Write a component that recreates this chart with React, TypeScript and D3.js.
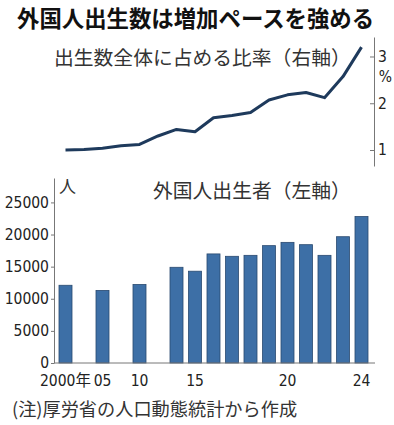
import React, { useEffect, useRef } from "react";
import * as d3 from "d3";

// slots on the x axis: "g*" slots are gaps (no bar)
const slots = ["2000", "g1", "2005", "g2", "2010", "g3", "2014", "2015", "2016", "2017", "2018", "2019", "2020", "2021", "2022", "2023", "2024"];
const barYears = ["2000", "2005", "2010", "2014", "2015", "2016", "2017", "2018", "2019", "2020", "2021", "2022", "2023", "2024"];
const births = [12100, 11300, 12230, 14900, 14290, 16980, 16610, 16760, 18270, 18780, 18420, 16760, 19660, 22800];
// share of all births (%), one value per slot
const ratio = [1.0, 1.01, 1.04, 1.09, 1.12, 1.3, 1.44, 1.39, 1.69, 1.74, 1.8, 2.07, 2.18, 2.23, 2.12, 2.57, 3.2];
const xTickYears = ["2000", "2005", "2010", "2015", "2020", "2024"];
const xTickLabels = ["2000年", "05", "10", "15", "20", "24"];
const leftTicks = [0, 5000, 10000, 15000, 20000, 25000];
const rightTicks = [1, 2, 3];

const JP = "'Noto Sans CJK JP', 'Noto Sans', sans-serif";
const NUM = "'DejaVu Sans Condensed', 'Noto Sans CJK JP', sans-serif";

const App = () => {
  const ref = useRef<SVGSVGElement>(null);

  useEffect(() => {
    const svg = d3.select(ref.current);
    svg.selectAll("*").remove();

    const x = d3.scaleBand().domain(slots).range([56.25, 370.75]).paddingInner(0.297).paddingOuter(0.1485);
    const yL = d3.scaleLinear().domain([0, 28800]).range([363, 178]);
    const yR = d3.scaleLinear().domain([0.658, 3.417]).range([166, 37]);
    const cx = (s: string) => (x(s) as number) + x.bandwidth() / 2;

    // title
    svg.append("text")
      .attr("x", 17).attr("y", 27)
      .style("font-family", JP).style("font-size", "22.4px").style("font-weight", "bold")
      .attr("fill", "#111")
      .text("外国人出生数は増加ペースを強める");

    // ----- upper line chart -----
    svg.append("text")
      .attr("x", 54).attr("y", 65)
      .style("font-family", JP).style("font-size", "19.8px")
      .attr("fill", "#333")
      .text("出生数全体に占める比率（右軸）");

    const rAxis = svg.append("g")
      .attr("transform", "translate(374,0)")
      .call(d3.axisRight(yR).tickValues(rightTicks).tickSizeInner(-4).tickSizeOuter(0).tickPadding(4).tickFormat(d3.format("d")));
    rAxis.select(".domain").attr("stroke", "#777");
    rAxis.selectAll(".tick line").attr("stroke", "#777");
    rAxis.selectAll("text")
      .style("font-family", NUM).style("font-size", "15.5px").attr("fill", "#222");
    svg.append("text")
      .attr("x", 385.5).attr("y", 82)
      .attr("text-anchor", "middle")
      .style("font-family", NUM).style("font-size", "15.5px").attr("fill", "#222")
      .text("%");

    const line = d3.line<number>()
      .x((_, i) => cx(slots[i]))
      .y((d) => yR(d));
    svg.append("path")
      .datum(ratio)
      .attr("d", line)
      .attr("fill", "none")
      .attr("stroke", "#1e3a5c")
      .attr("stroke-width", 3)
      .attr("stroke-linejoin", "round");

    // ----- lower bar chart -----
    svg.append("g")
      .selectAll("rect")
      .data(births)
      .enter()
      .append("rect")
      .attr("x", (_, i) => x(barYears[i]) as number)
      .attr("y", (d) => yL(d))
      .attr("width", x.bandwidth())
      .attr("height", (d) => yL(0) - yL(d))
      .attr("fill", "#3d6fa6")
      .attr("stroke", "#2a4a70")
      .attr("stroke-width", 0.8);

    const lAxis = svg.append("g")
      .attr("transform", "translate(54,0)")
      .call(d3.axisLeft(yL).tickValues(leftTicks).tickSize(3).tickSizeOuter(0).tickPadding(2).tickFormat(d3.format("d")));
    lAxis.select(".domain").attr("stroke", "#777");
    lAxis.selectAll(".tick line").attr("stroke", "#777");
    lAxis.selectAll("text")
      .style("font-family", NUM).style("font-size", "15.5px").attr("fill", "#222");

    svg.append("line")
      .attr("x1", 54).attr("x2", 375)
      .attr("y1", yL(0)).attr("y2", yL(0))
      .attr("stroke", "#777");

    svg.append("g")
      .selectAll("text")
      .data(xTickYears)
      .enter()
      .append("text")
      .attr("x", (d) => cx(d))
      .attr("y", 386)
      .attr("text-anchor", "middle")
      .style("font-family", NUM)
      .style("font-size", "15.5px")
      .attr("fill", "#222")
      .text((_, i) => xTickLabels[i]);

    svg.append("text")
      .attr("x", 59).attr("y", 193)
      .style("font-family", JP).style("font-size", "17px").attr("fill", "#333")
      .text("人");

    svg.append("text")
      .attr("x", 153).attr("y", 198)
      .style("font-family", JP).style("font-size", "19.8px").attr("fill", "#333")
      .text("外国人出生者（左軸）");

    // footnote
    svg.append("text")
      .attr("x", 12).attr("y", 416)
      .style("font-family", JP).style("font-size", "18.2px").attr("fill", "#333")
      .text("(注)厚労省の人口動態統計から作成");
  }, []);

  return (
    <svg
      ref={ref}
      width={394}
      height={425}
      style={{ position: "absolute", left: 0, top: 0, background: "#fff" }}
    />
  );
};

export default App;
